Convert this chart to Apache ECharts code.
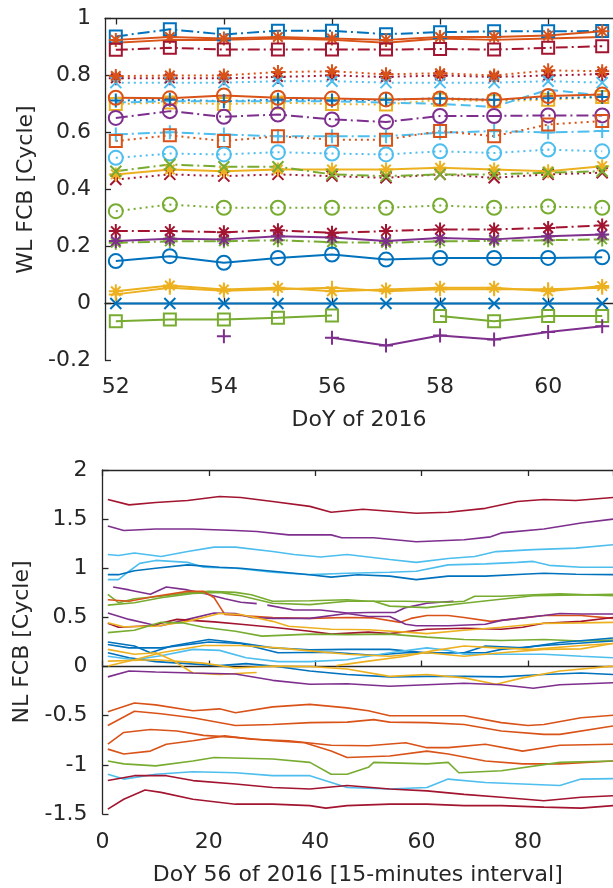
<!DOCTYPE html>
<html><head><meta charset="utf-8">
<script src="https://cdn.jsdelivr.net/npm/echarts@6/dist/echarts.min.js"></script>
<style>html,body{margin:0;padding:0;overflow:hidden;background:#fff}#c{width:613px;height:888px}</style>
</head><body><div id="c"></div><script>
// ---------- Top panel: WL FCB per day ----------
const DAYS = [52,53,54,55,56,57,58,59,60,61];
const wl_blueSq      = [0.937,0.962,0.944,0.957,0.957,0.945,0.952,0.955,0.955,0.956];
const wl_orangeAst   = [0.925,0.935,0.930,0.935,0.930,0.925,0.935,0.935,0.940,0.955];
const wl_orangeLine  = [0.915,0.925,0.925,0.930,0.925,0.915,0.930,0.925,0.930,0.935];
const wl_redSq       = [0.890,0.897,0.891,0.891,0.891,0.891,0.893,0.891,0.897,0.903];
const wl_orangeAstDot= [0.798,0.800,0.800,0.812,0.815,0.804,0.808,0.800,0.818,0.815];
const wl_redAstDot   = [0.790,0.790,0.790,0.795,0.800,0.795,0.800,0.795,0.800,0.805];
const wl_lblueXDot   = [0.775,0.775,0.775,0.780,0.780,0.775,0.775,0.775,0.780,0.775];
const wl_orangeCirc  = [0.722,0.720,0.730,0.722,0.719,0.716,0.719,0.714,0.728,0.733];
const wl_yellowSqDot = [0.700,0.705,0.700,0.705,0.700,0.698,0.715,0.710,0.715,0.725];
const wl_bluePlusDot = [0.712,0.715,0.710,0.715,0.712,0.715,0.720,0.715,0.720,0.725];
const wl_lblueDash   = [0.705,0.710,0.710,0.710,0.710,0.705,0.700,0.690,0.750,0.730];
const wl_purpleCirc  = [0.651,0.675,0.655,0.663,0.646,0.637,0.658,0.658,0.660,0.660];
const wl_lbluePlus   = [0.593,0.601,0.593,0.587,0.587,0.587,0.599,0.605,0.600,0.605];
const wl_orangeSqDot = [0.570,0.590,0.570,0.587,0.575,0.575,0.605,0.587,0.628,0.640];
const wl_lblueCirc   = [0.511,0.526,0.523,0.531,0.526,0.523,0.534,0.528,0.540,0.534];
const wl_greenX      = [0.464,0.488,0.480,0.480,0.453,0.447,0.453,0.453,0.459,0.464];
const wl_yellowAst   = [0.453,0.470,0.464,0.470,0.470,0.470,0.476,0.470,0.464,0.482];
const wl_redXDot     = [0.435,0.453,0.447,0.453,0.447,0.441,0.453,0.441,0.453,0.459];
const wl_greenCirc   = [0.324,0.347,0.336,0.336,0.336,0.336,0.344,0.336,0.340,0.336];
const wl_redAst      = [0.254,0.254,0.250,0.257,0.248,0.254,0.260,0.260,0.265,0.274];
const wl_purpleAst   = [0.219,0.227,0.225,0.236,0.232,0.219,0.230,0.225,0.236,0.242];
const wl_greenAst    = [0.213,0.218,0.218,0.222,0.215,0.213,0.218,0.220,0.222,0.225];
const wl_blueCirc    = [0.149,0.166,0.143,0.160,0.172,0.154,0.160,0.160,0.160,0.162];
const wl_yellowAst2  = [0.043,0.063,0.049,0.055,0.043,0.049,0.055,0.055,0.043,0.061];
const wl_yellowPlus  = [0.032,0.055,0.045,0.050,0.055,0.043,0.050,0.050,0.050,0.055];
const wl_blueX       = [0,0,0,0,0,0,0,0,0,0];
const wl_greenSq     = [-0.062,-0.056,-0.056,-0.050,-0.042,null,-0.044,-0.062,-0.044,-0.044];
const wl_purplePlus  = [null,null,-0.115,null,-0.120,-0.147,-0.112,-0.126,-0.100,-0.080];
const WL_TICKS = [52,54,56,58,60];

// ---------- Bottom panel: NL FCB, DoY 56, 15-min epochs ----------
const nl_red1  = [[1,1.70],[5,1.645],[10,1.67],[16,1.69],[22,1.73],[26,1.72],[32,1.68],[39,1.63],[43,1.57],[49,1.60],[54,1.58],[59,1.56],[65,1.57],[72,1.61],[78,1.68],[83,1.70],[89,1.69],[96,1.72]];
const nl_pur1  = [[1,1.43],[4,1.385],[10,1.40],[17,1.40],[25,1.385],[29,1.375],[35,1.34],[43,1.34],[45,1.31],[51,1.31],[59,1.27],[68,1.29],[73,1.32],[75,1.36],[83,1.40],[90,1.46],[96,1.50]];
const nl_lb1   = [[1,1.14],[3,1.13],[6,1.155],[11,1.12],[16,1.17],[21,1.215],[25,1.215],[32,1.17],[36,1.14],[41,1.115],[46,1.14],[54,1.09],[59,1.06],[65,1.10],[70,1.12],[74,1.17],[81,1.19],[89,1.205],[96,1.24]];
const nl_lb2   = [[1,0.885],[3,0.885],[5,0.97],[7,1.05],[10,1.08],[16,1.06],[19,1.01],[25,1.0],[32,0.96],[39,0.935],[46,0.95],[54,0.96],[59,0.97],[65,1.035],[72,1.045],[78,1.06],[81,1.07],[84,1.03],[90,1.01],[96,1.01]];
const nl_blue1 = [[1,0.935],[3,0.935],[6,0.975],[10,1.0],[16,1.035],[22,1.01],[26,1.0],[32,0.97],[39,0.935],[43,0.91],[48,0.935],[54,0.92],[59,0.885],[65,0.92],[72,0.92],[79,0.94],[83,0.95],[89,0.94],[96,0.935]];
const nl_pur2  = [[2,0.81],[5,0.78],[9,0.735],[12,0.81],[16,0.78],[19,0.745],[23,0.69],[26,0.655],[29,0.64],[30,null],[31,0.625],[36,0.575],[41,0.575],[46,0.545],[50,0.55],[55,0.55],[57,0.60],[61,0.645],[66,0.665]];
const nl_grn1  = [[1,0.735],[3,0.65],[6,0.69],[11,0.715],[16,0.75],[20,0.765],[25,0.755],[28,0.73],[32,0.665],[39,0.67],[46,0.68],[50,0.665],[57,0.665],[65,0.655],[68,0.665],[70,0.715],[75,0.715],[81,0.73],[86,0.74],[96,0.72]];
const nl_grn2  = [[1,0.625],[6,0.65],[11,0.70],[17,0.745],[22,0.755],[26,0.72],[32,0.645],[39,0.63],[46,0.665],[51,0.665],[54,0.615],[61,0.60],[68,0.645],[74,0.68],[81,0.72],[96,0.735]];
const nl_org1  = [[1,0.68],[5,0.665],[10,0.715],[16,0.765],[19,0.765],[21,0.70],[22,0.615],[23,0.53],[26,0.52],[32,0.50],[39,0.49],[46,0.50],[51,0.495],[56,0.45],[58,0.49],[61,0.52],[65,0.52],[68,0.50],[73,0.46],[75,0.47],[83,0.52],[90,0.52],[96,0.49]];
const nl_pur3  = [[1,0.545],[5,0.48],[9,0.43],[11,0.415],[16,0.48],[21,0.545],[25,0.54],[28,0.50],[32,0.49],[39,0.49],[46,0.54],[50,0.51],[54,0.51],[57,0.43],[59,0.415],[65,0.415],[72,0.43],[75,0.47],[83,0.52],[86,0.54],[90,0.535],[96,0.535]];
const nl_red2  = [[1,0.44],[3,0.40],[9,0.415],[14,0.48],[21,0.455],[26,0.43],[32,0.40],[39,0.36],[43,0.33],[50,0.35],[54,0.335],[61,0.38],[68,0.39],[75,0.38],[79,0.40],[83,0.44],[90,0.46],[96,0.50]];
const nl_yel1  = [[1,0.445],[4,0.405],[10,0.41],[16,0.46],[22,0.54],[26,0.53],[32,0.46],[35,0.41],[43,0.38],[50,0.375],[57,0.35],[61,0.335],[68,0.37],[75,0.40],[83,0.44],[90,0.445],[96,0.45]];
const nl_grn3  = [[1,0.345],[6,0.37],[11,0.45],[15,0.445],[19,0.40],[25,0.36],[30,0.31],[39,0.33],[46,0.325],[54,0.33],[61,0.30],[68,0.275],[75,0.265],[83,0.275],[90,0.26],[96,0.27]];
const nl_blueA = [[1,0.25],[6,0.21],[9,0.14],[13,0.21],[20,0.275],[26,0.24],[32,0.19],[39,0.17],[46,0.175],[54,0.175],[61,0.14],[68,0.14],[72,0.21],[79,0.19],[86,0.245],[96,0.29]];
const nl_blueB = [[1,0.225],[5,0.19],[11,0.19],[20,0.25],[26,0.235],[33,0.14],[43,0.145],[51,0.115],[57,0.14],[65,0.14],[72,0.14],[75,0.175],[83,0.215],[96,0.26]];
const nl_blueC = [[1,0.14],[5,0.09],[10,0.05],[16,0.03],[22,0.01],[27,0.03],[32,0.005],[39,-0.045],[46,-0.08],[54,-0.105],[61,-0.10],[68,-0.10],[75,-0.105],[83,-0.08],[90,-0.065],[96,-0.08]];
const nl_lbA   = [[1,0.105],[6,0.07],[11,0.11],[17,0.175],[22,0.165],[27,0.09],[33,0.05],[39,0.05],[46,0.07],[54,0.14],[61,0.19],[65,0.165],[68,0.125],[75,0.125],[83,0.125],[90,0.105],[96,0.09]];
const nl_yelA  = [[1,0.005],[6,0.07],[11,0.14],[19,0.215],[26,0.215],[33,0.19],[39,0.16],[46,0.125],[54,0.105],[61,0.14],[68,0.105],[75,0.14],[83,0.175],[90,0.18],[96,0.235]];
const nl_yelB  = [[1,0.175],[6,0.125],[10,0.14],[13,0.07],[17,-0.065],[22,-0.08],[27,-0.065],[29,-0.06],[30,null],[44,0.01],[50,0.055],[57,0.105],[62,0.16],[68,0.21],[74,0.19],[81,0.175],[90,0.215],[96,0.235]];
const nl_yelC  = [[1,0.055],[10,0.07],[19,0.035],[25,-0.015],[32,0.005],[39,0],[46,-0.025],[54,-0.1],[61,-0.08],[68,-0.115],[74,-0.18],[79,-0.115],[86,-0.045],[96,0.005]];
const nl_pur4  = [[1,-0.105],[5,-0.045],[10,-0.055],[17,-0.065],[25,-0.075],[32,-0.14],[39,-0.18],[46,-0.175],[54,-0.2],[61,-0.185],[68,-0.17],[75,-0.185],[81,-0.22],[86,-0.185],[96,-0.165]];
const nl_org2  = [[1,-0.46],[6,-0.37],[10,-0.39],[17,-0.45],[22,-0.43],[25,-0.47],[32,-0.41],[39,-0.385],[46,-0.42],[50,-0.45],[54,-0.5],[61,-0.5],[68,-0.5],[75,-0.57],[80,-0.6],[83,-0.59],[90,-0.52],[96,-0.495]];
const nl_org3  = [[1,-0.6],[6,-0.455],[11,-0.48],[17,-0.52],[25,-0.6],[32,-0.59],[39,-0.57],[46,-0.565],[51,-0.54],[54,-0.565],[61,-0.57],[68,-0.59],[75,-0.655],[83,-0.69],[86,-0.69],[96,-0.605]];
const nl_org4  = [[1,-0.79],[4,-0.67],[9,-0.64],[14,-0.655],[19,-0.70],[25,-0.72],[32,-0.755],[38,-0.775],[43,-0.86],[46,-0.925],[54,-0.91],[61,-0.86],[65,-0.89],[72,-0.96],[79,-0.99],[86,-0.99],[96,-0.96]];
const nl_org5  = [[1,-0.84],[4,-0.89],[9,-0.86],[12,-0.79],[17,-0.755],[23,-0.705],[28,-0.74],[35,-0.755],[43,-0.80],[50,-0.805],[57,-0.775],[61,-0.825],[65,-0.825],[72,-0.79],[79,-0.86],[86,-0.80],[96,-0.79]];
const nl_grn4  = [[1,-0.96],[4,-0.99],[10,-1.01],[17,-0.96],[21,-0.925],[32,-0.94],[39,-0.975],[43,-1.095],[46,-1.095],[50,-1.025],[51,-0.975],[61,-0.99],[65,-0.975],[67,-1.08],[75,-1.06],[86,-0.975],[96,-0.96]];
const nl_lb3   = [[1,-1.095],[4,-1.145],[10,-1.095],[17,-1.07],[25,-1.08],[32,-1.11],[39,-1.11],[46,-1.23],[54,-1.245],[61,-1.23],[65,-1.145],[72,-1.18],[79,-1.195],[86,-1.21],[90,-1.145],[96,-1.14]];
const nl_red3  = [[1,-1.16],[6,-1.11],[12,-1.11],[17,-1.16],[25,-1.195],[32,-1.23],[39,-1.245],[46,-1.21],[54,-1.245],[61,-1.265],[68,-1.3],[75,-1.33],[83,-1.365],[90,-1.33],[96,-1.315]];
const nl_red4  = [[1,-1.45],[4,-1.35],[8,-1.255],[11,-1.28],[17,-1.35],[25,-1.4],[32,-1.4],[39,-1.415],[42,-1.44],[46,-1.415],[54,-1.4],[61,-1.4],[68,-1.415],[75,-1.415],[83,-1.43],[90,-1.44],[96,-1.415]];

// ---------- styling ----------
const C = {b:'#0072BD', o:'#D95319', y:'#EDB120', p:'#7E2F8E', g:'#77AC30', l:'#4DBEEE', r:'#A2142F'};
const SYM = {
  o:['circle',14], s:['rect',12], n:['none',0],
  x:['path://M0,0L10,10M10,0L0,10',11],
  p:['path://M5,0L5,10M0,5L10,5',14],
  a:['path://M5,0L5,10M0,5L10,5M1.6,1.6L8.4,8.4M8.4,1.6L1.6,8.4',14]
};
const DASH = {'-':'solid','--':[10,5],':':[2,4],'-.':[12,4,2,4]};

const wlDefs = [
  [wl_blueSq,'b','s','-.'],[wl_orangeLine,'o','n','-'],[wl_orangeAst,'o','a','-'],[wl_redSq,'r','s','-.'],
  [wl_redAstDot,'r','a',':'],[wl_lblueXDot,'l','x',':'],[wl_orangeAstDot,'o','a',':'],
  [wl_yellowSqDot,'y','s',':'],[wl_bluePlusDot,'b','p',':'],[wl_lblueDash,'l','n','--'],[wl_orangeCirc,'o','o','-'],
  [wl_purpleCirc,'p','o','-.'],[wl_lbluePlus,'l','p','-.'],[wl_orangeSqDot,'o','s',':'],[wl_lblueCirc,'l','o',':'],
  [wl_redXDot,'r','x',':'],[wl_yellowAst,'y','a','-'],[wl_greenX,'g','x','-.'],
  [wl_greenCirc,'g','o',':'],[wl_greenAst,'g','a','-.'],[wl_purpleAst,'p','a','-'],[wl_redAst,'r','a','-.'],
  [wl_blueCirc,'b','o','-'],[wl_yellowPlus,'y','p','-'],[wl_yellowAst2,'y','a','-'],[wl_blueX,'b','x','-'],
  [wl_greenSq,'g','s','-'],[wl_purplePlus,'p','p','-']
];
const nlDefs = [
  [nl_red1,'r'],[nl_pur1,'p'],[nl_lb1,'l'],[nl_lb2,'l'],[nl_blue1,'b'],[nl_pur2,'p'],[nl_grn1,'g'],[nl_grn2,'g'],
  [nl_org1,'o'],[nl_pur3,'p'],[nl_red2,'r'],[nl_yel1,'y'],[nl_grn3,'g'],[nl_blueA,'b'],[nl_blueB,'b'],[nl_blueC,'b'],
  [nl_lbA,'l'],[nl_yelA,'y'],[nl_yelB,'y'],[nl_yelC,'y'],[nl_pur4,'p'],[nl_org2,'o'],[nl_org3,'o'],[nl_org4,'o'],
  [nl_org5,'o'],[nl_grn4,'g'],[nl_lb3,'l'],[nl_red3,'r'],[nl_red4,'r']
];

const TXT = '#262626', FONT = 'DejaVu Sans', FS = 22;
const axLine = {show:true, lineStyle:{color:TXT, width:1.3}};
const lbl = {color:TXT, fontFamily:FONT, fontSize:FS};
const nameStyle = {color:TXT, fontFamily:FONT, fontSize:FS};

const series = [];
wlDefs.forEach(([vals,c,m,d]) => {
  const sym = SYM[m];
  series.push({
    type:'line', xAxisIndex:0, yAxisIndex:0,
    data: DAYS.map((dday,i)=>[dday, vals[i]]),
    symbol: sym[0], symbolSize: sym[1], showSymbol: m!=='n',
    itemStyle:{color:'rgba(0,0,0,0)', borderColor:C[c], borderWidth:2},
    lineStyle:{color:C[c], width:2, type:DASH[d]},
    silent:true, animation:false
  });
});
nlDefs.forEach(([pts,c]) => {
  series.push({
    type:'line', xAxisIndex:2, yAxisIndex:1, data:pts, showSymbol:false, symbol:'none',
    lineStyle:{color:C[c], width:1.6}, silent:true, animation:false
  });
});

const chart = echarts.init(document.getElementById('c'), null, {renderer:'canvas'});
chart.setOption({
  backgroundColor:'#fff',
  animation:false,
  grid:[
    {left:105, top:18.5, width:515, height:342},
    {left:102.5, top:470, width:516, height:344}
  ],
  xAxis:[
    {type:'value', gridIndex:0, min:51.8, max:61.2, position:'bottom',
     name:'DoY of 2016', nameLocation:'middle', nameGap:49, nameTextStyle:nameStyle,
     axisLine:axLine, splitLine:{show:false},
     axisTick:{show:true, inside:true, length:6, customValues:WL_TICKS, lineStyle:{color:TXT,width:1.3}},
     axisLabel:Object.assign({margin:16, customValues:WL_TICKS}, lbl)},
    {type:'value', gridIndex:0, min:51.8, max:61.2, position:'top',
     axisLine:axLine, splitLine:{show:false}, axisLabel:{show:false},
     axisTick:{show:true, inside:true, length:6, customValues:WL_TICKS, lineStyle:{color:TXT,width:1.3}}},
    {type:'value', gridIndex:1, min:0, max:96, interval:20, position:'bottom',
     name:'DoY 56 of 2016 [15-minutes interval]', nameLocation:'middle', nameGap:50, nameTextStyle:nameStyle,
     axisLine:axLine, splitLine:{show:false},
     axisTick:{show:true, inside:true, length:6, lineStyle:{color:TXT,width:1.3}},
     axisLabel:Object.assign({margin:17, showMaxLabel:false}, lbl)},
    {type:'value', gridIndex:1, min:0, max:96, interval:20, position:'top',
     axisLine:axLine, splitLine:{show:false}, axisLabel:{show:false},
     axisTick:{show:true, inside:true, length:6, lineStyle:{color:TXT,width:1.3}}}
  ],
  yAxis:[
    {type:'value', gridIndex:0, min:-0.2, max:1, interval:0.2,
     name:'WL FCB [Cycle]', nameLocation:'middle', nameGap:66, nameTextStyle:nameStyle,
     axisLine:axLine, splitLine:{show:false},
     axisTick:{show:true, inside:true, length:6, lineStyle:{color:TXT,width:1.3}},
     axisLabel:Object.assign({margin:14}, lbl)},
    {type:'value', gridIndex:1, min:-1.5, max:2, interval:0.5,
     name:'NL FCB [Cycle]', nameLocation:'middle', nameGap:66, nameTextStyle:nameStyle,
     axisLine:axLine, splitLine:{show:false},
     axisTick:{show:true, inside:true, length:6, lineStyle:{color:TXT,width:1.3}},
     axisLabel:Object.assign({margin:15}, lbl)}
  ],
  series: series
});
</script></body></html>
